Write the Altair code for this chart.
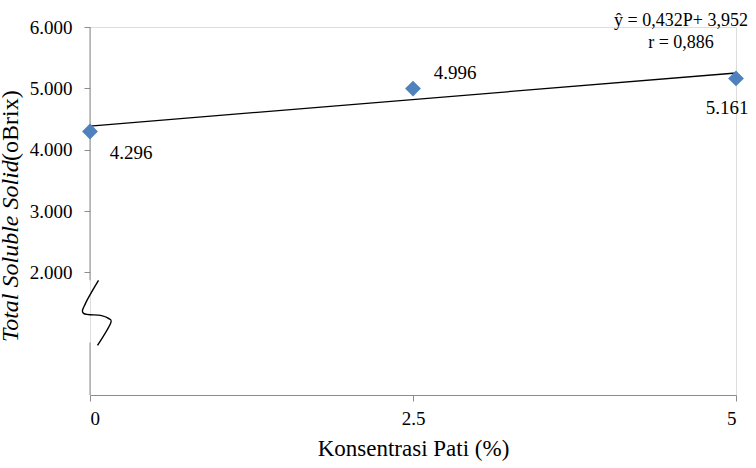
import altair as alt
import pandas as pd

# Data
konsentrasi = [0, 2.5, 5]
tss = [4.296, 4.996, 5.161]
labels = ["4.296", "4.996", "5.161"]

y_ticks = [2, 3, 4, 5, 6]
x_ticks = [0, 2.5, 5]

equation_lines = ["ŷ = 0,432P+ 3,952", "r = 0,886"]

# axis break (in data units of the y axis)
break_low, break_high = 0.857, 1.87
# squiggle break symbol in data units (x: P, y: Brix)
sq_x = [0.066, -0.035, -0.05, 0.081, 0.143, 0.159, 0.058]
sq_y = [1.869, 1.494, 1.331, 1.298, 1.249, 1.167, 0.808]

FONT = "Times New Roman, Liberation Serif, serif"
AXIS_GRAY = "#8c8c8c"

df = pd.DataFrame({"x": konsentrasi, "y": tss, "label": labels})
sq = pd.DataFrame({"x": sq_x, "y": sq_y, "i": list(range(len(sq_x)))})
seg = pd.DataFrame({"x": [0, 0], "y": [6, break_low], "y2": [break_high, 0]})

xs = alt.Scale(domain=[0, 5], nice=False)
ys = alt.Scale(domain=[0, 6], nice=False, zero=False)

x_axis = alt.Axis(
    values=x_ticks, format=".1~f", title="Konsentrasi Pati (%)", grid=False,
    domainColor=AXIS_GRAY, tickColor=AXIS_GRAY, tickSize=6,
    labelFont=FONT, labelFontSize=19, labelColor="#000", labelPadding=8,
    titleFont=FONT, titleFontSize=23, titleFontWeight="normal", titleColor="#000",
    titlePadding=9)
y_axis = alt.Axis(
    values=y_ticks, format=".3f", title=None, grid=False, domain=False,
    tickColor=AXIS_GRAY, tickSize=6,
    labelFont=FONT, labelFontSize=19, labelColor="#000", labelPadding=12)


def X():
    return alt.X("x:Q", scale=xs, axis=x_axis)


def Y():
    return alt.Y("y:Q", scale=ys, axis=y_axis)


base = alt.Chart(df)

points = base.mark_point(shape="diamond", filled=True, size=250, color="#4F81BD", opacity=1).encode(
    x=X(), y=Y())

trend = base.transform_regression("x", "y", extent=[0, 5]).mark_line(
    color="black", strokeWidth=1.3).encode(x=X(), y=Y())

offsets = [(41, 21), (42, -16), (-9, 30)]
label_layers = []
for i, (dx, dy) in enumerate(offsets):
    label_layers.append(
        alt.Chart(df.iloc[[i]]).mark_text(font=FONT, fontSize=19, dx=dx, dy=dy, color="black").encode(
            x=X(), y=Y(), text="label:N"))

axis_rule = alt.Chart(seg).mark_rule(color=AXIS_GRAY, strokeWidth=1).encode(
    x=X(), y=Y(), y2="y2:Q")

squiggle = alt.Chart(sq).mark_line(color="black", strokeWidth=1.4, interpolate="cardinal").encode(
    x=X(), y=Y(), order="i:Q")

eq_layers = []
for line, ypix in zip(equation_lines, [-6, 16]):
    eq_layers.append(
        alt.Chart(pd.DataFrame({"t": [line]})).mark_text(
            font=FONT, fontSize=18, color="black", align="center", baseline="middle").encode(
            x=alt.value(591), y=alt.value(ypix), text="t:N"))

ytitle_italic = alt.Chart(pd.DataFrame({"t": ["Total Soluble Solid"]})).mark_text(
    font=FONT, fontSize=24, fontStyle="italic", angle=270, align="left", baseline="middle", color="black").encode(
    x=alt.value(-79), y=alt.value(315), text="t:N")
ytitle_normal = alt.Chart(pd.DataFrame({"t": ["(oBrix)"]})).mark_text(
    font=FONT, fontSize=24, angle=270, align="left", baseline="middle", color="black").encode(
    x=alt.value(-79), y=alt.value(134), text="t:N")

chart = alt.layer(axis_rule, trend, points, squiggle, *label_layers, *eq_layers,
                  ytitle_italic, ytitle_normal).properties(
    width=646, height=368,
    autosize=alt.AutoSizeParams(type="none"),
    padding={"left": 90, "top": 27, "right": 20, "bottom": 73},
).configure_view(stroke=None).configure(font=FONT, background="white")

chart.save("out.html", embed_options={"renderer": "svg", "actions": False})
